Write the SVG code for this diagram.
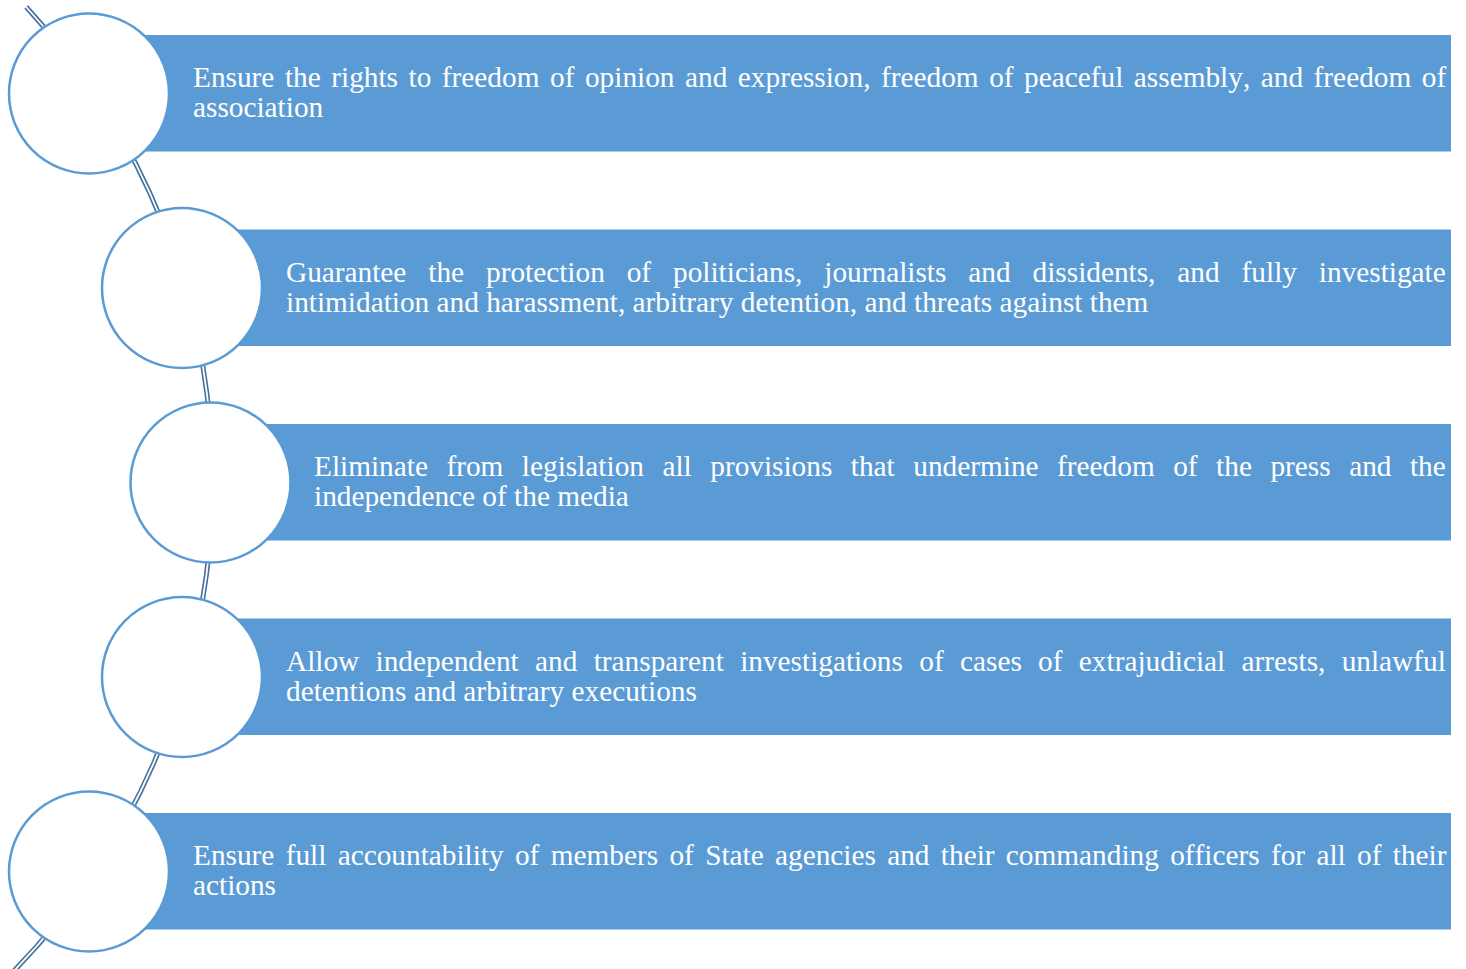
<svg xmlns="http://www.w3.org/2000/svg" width="1466" height="969" viewBox="0 0 1466 969">
<style>
.bar{fill:#5B9BD5;}
.dot{fill:#FFFFFF;stroke:#5B9BD5;stroke-width:2.5;}
.lbl{fill:#FFFFFF;font-family:"Liberation Serif","Times New Roman",serif;font-size:29.3px;font-kerning:none;font-variant-ligatures:none;}
.arcO{fill:none;stroke:#41719C;stroke-width:5;}
.arcI{fill:none;stroke:#FFFFFF;stroke-width:1.8;}
</style>
<rect width="1466" height="969" fill="#FFFFFF"/>
<g id="connectors">
<path class="arcO" d="M 26.2 7 A 700 700 0 0 1 9.9 975"/>
<path class="arcI" d="M 26.2 7 A 700 700 0 0 1 9.9 975"/>
</g>
<g id="node1">
<rect class="bar" x="89" y="35" width="1362" height="116.5"/>
<circle class="dot" cx="89" cy="93.5" r="80"/>
<text class="lbl" x="193" y="87" word-spacing="3.22">Ensure the rights to freedom of opinion and expression, freedom of peaceful assembly, and freedom of</text>
<text class="lbl" x="193" y="117">association</text>
</g>
<g id="node2">
<rect class="bar" x="182" y="229.5" width="1269" height="116.5"/>
<circle class="dot" cx="182" cy="288" r="80"/>
<text class="lbl" x="286" y="281.5" word-spacing="14.6">Guarantee the protection of politicians, journalists and dissidents, and fully investigate</text>
<text class="lbl" x="286" y="311.5">intimidation and harassment, arbitrary detention, and threats against them</text>
</g>
<g id="node3">
<rect class="bar" x="210" y="424" width="1241" height="116.5"/>
<circle class="dot" cx="210.5" cy="482.5" r="80"/>
<text class="lbl" x="314" y="476" word-spacing="11.19">Eliminate from legislation all provisions that undermine freedom of the press and the</text>
<text class="lbl" x="314" y="506">independence of the media</text>
</g>
<g id="node4">
<rect class="bar" x="182" y="618.5" width="1269" height="116.5"/>
<circle class="dot" cx="182" cy="677" r="80"/>
<text class="lbl" x="286" y="670.5" word-spacing="9">Allow independent and transparent investigations of cases of extrajudicial arrests, unlawful</text>
<text class="lbl" x="286" y="700.5">detentions and arbitrary executions</text>
</g>
<g id="node5">
<rect class="bar" x="89" y="813" width="1362" height="116.5"/>
<circle class="dot" cx="89" cy="871.5" r="80"/>
<text class="lbl" x="193" y="865" word-spacing="4">Ensure full accountability of members of State agencies and their commanding officers for all of their</text>
<text class="lbl" x="193" y="895">actions</text>
</g>
</svg>
